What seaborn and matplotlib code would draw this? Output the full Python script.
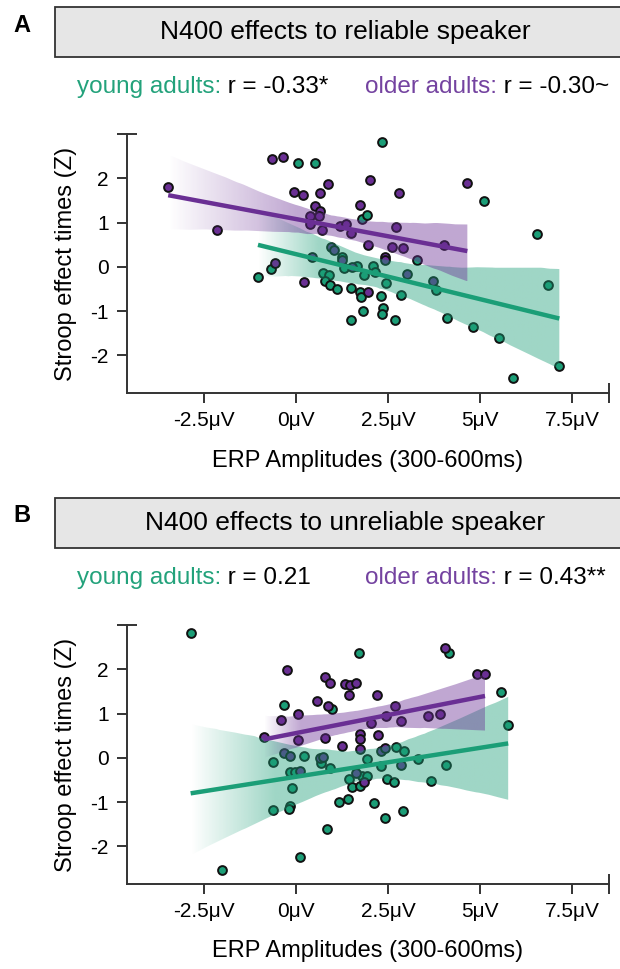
import numpy as np
import seaborn as sns
import matplotlib.pyplot as plt
import matplotlib.colors as mcolors
from matplotlib.patches import Rectangle
from matplotlib.path import Path

# panel A: reliable speaker
a_young_x = [2.33, 0.06, 0.52, 1.79, 1.93, -1.04, -0.68, 0.73, 0.88, 0.79, 0.91, 1.11, 1.23,
             1.29, 1.65, 1.83, 2.08, 2.15, 2.43, 1.49, 1.74, 1.76, 2.31, 2.85, 1.82, 1.49,
             2.35, 2.33, 2.68, 4.09, 3.81, 5.09, 6.54, 6.83, 4.80, 5.50, 5.90, 7.15, 3.27]
a_young_y = [2.81, 2.34, 2.34, 1.08, 1.18, -0.23, -0.05, -0.13, -0.18, -0.33, -0.41, -0.50, 0.23,
             -0.03, 0.01, -0.18, 0.02, -0.11, -0.37, -0.48, -0.56, -0.69, -0.65, -0.63, -0.99, -1.21,
             -0.93, -1.07, -1.20, -1.16, -0.52, 1.48, 0.74, -0.41, -1.37, -1.61, -2.52, -2.23, 0.16]
a_old_x = [-3.48, -2.16, -0.65, -0.35, -0.07, 0.18, 0.65, 0.85, 0.52, 0.64, 0.38, 0.61, 0.70,
           0.38, 1.18, 1.34, 1.49, 1.74, 2.00, 2.80, 2.72, 1.94, 2.61, 2.91, 4.01, 0.95, 1.02,
           1.24, 0.43, -0.57, 0.20, 1.52, 2.40, 2.40, 3.02, 3.72, 1.94, 4.65]
a_old_y = [1.81, 0.84, 2.44, 2.48, 1.70, 1.63, 1.66, 1.88, 1.38, 1.27, 1.14, 1.15, 0.84,
           0.97, 0.93, 0.97, 0.76, 1.39, 1.97, 1.66, 0.91, 0.50, 0.44, 0.42, 0.50, 0.44, 0.39,
           0.16, 0.23, 0.08, -0.35, 0.00, 0.23, 0.16, -0.17, -0.31, -0.56, 1.89]

# panel B: unreliable speaker
b_young_x = [-2.87, 1.70, -0.32, 0.97, -0.62, 0.22, 0.67, 0.93, -0.18, -0.03, -0.12, -0.64, -0.18,
             -0.21, 0.84, 0.09, -2.01, 1.15, 1.40, 1.43, 1.52, 1.74, 1.79, 1.93, 1.93, 2.11,
             2.40, 2.90, 2.47, 2.65, 2.31, 2.70, 2.94, 3.31, 3.67, 4.07, 4.15, 5.56, 5.76]
b_young_y = [2.83, 2.36, 1.19, 1.11, -0.10, 0.05, -0.11, -0.22, -0.33, -0.33, -0.69, -1.18, -1.09,
             -1.16, -1.61, -2.23, -2.53, -0.99, -0.92, -0.48, -0.65, -0.64, -0.41, -0.41, -0.03, -1.01,
             -1.36, -1.20, -0.48, -0.55, -0.18, 0.24, 0.16, -0.02, -0.52, -0.17, 2.36, 1.49, 0.75]
b_old_x = [-0.25, 0.79, 0.93, 1.32, 1.47, 1.62, 1.44, 0.56, 0.86, 0.06, -0.42, 2.20, 2.68,
           2.43, 2.03, 2.85, 3.59, 3.92, -0.89, 0.06, 0.77, 1.73, 1.74, 2.22, 1.24, 1.74,
           2.31, 2.40, -0.33, -0.16, 0.65, 0.73, 0.11, 1.63, 1.85, 2.85, 4.04, 4.92, 5.13]
b_old_y = [1.98, 1.83, 1.70, 1.67, 1.64, 1.68, 1.41, 1.28, 1.18, 1.00, 0.86, 1.41, 1.17,
           0.94, 0.79, 0.84, 0.95, 1.00, 0.46, 0.41, 0.45, 0.54, 0.43, 0.52, 0.27, 0.20,
           0.16, 0.23, 0.11, 0.05, 0.00, 0.01, -0.30, -0.35, -0.54, -0.16, 2.49, 1.89, 1.89]

x_ticks = [-2.5, 0, 2.5, 5, 7.5]
x_labels = ["-2.5μV", "0μV", "2.5μV", "5μV", "7.5μV"]
y_ticks = [-2, -1, 0, 1, 2]
y_labels = ["-2", "-1", "0", "1", "2"]

GREEN = "#1b9e77"
PURPLE = "#6a2f94"
GREEN_TXT = "#23a27b"
PURPLE_TXT = "#7443a0"
DARK = "#333333"
W, H = 620, 969

sns.set_theme(style="ticks")
plt.rcParams["font.family"] = ["Liberation Sans", "DejaVu Sans"]
plt.rcParams["axes.unicode_minus"] = False
plt.rcParams["text.color"] = "black"

fig = plt.figure(figsize=(6.2, 9.69), dpi=100)


def fx(px):
    return px / W


def fy(py):
    return 1 - py / H


def fade_band(ax, coll, color, x_full, alpha=0.42):
    # swap the CI band for one that fades out towards its left end
    verts = coll.get_paths()[0].vertices
    x0, x1 = verts[:, 0].min(), verts[:, 0].max()
    y0, y1 = verts[:, 1].min(), verts[:, 1].max()
    xs = np.linspace(x0, x1, 400)
    rgba = np.zeros((2, 400, 4))
    rgba[..., :3] = mcolors.to_rgb(color)
    rgba[..., 3] = np.clip((xs - x0) / (x_full - x0), 0, 1) * alpha
    im = ax.imshow(rgba, extent=(x0, x1, y0, y1), origin="lower", aspect="auto",
                   interpolation="bilinear", zorder=3)
    im.set_clip_path(Path(verts), ax.transData)
    coll.remove()


def panel(off, letter, title, yx, yy, ox, oy, r_young, r_old, fade_young, fade_old):
    fig.text(fx(13), fy(off + 25), letter, fontsize=17, fontweight="bold", va="center")
    fig.add_artist(Rectangle((fx(55), fy(off + 57)), fx(650) - fx(55), 50 / H,
                             transform=fig.transFigure, facecolor="#e6e6e6",
                             edgecolor=DARK, lw=1.3))
    fig.text(fx(345), fy(off + 32), title, fontsize=19, ha="center", va="center")

    t1 = fig.text(fx(77), fy(off + 93), "young adults:", color=GREEN_TXT, fontsize=17.5,
                  va="baseline")
    t2 = fig.text(fx(365), fy(off + 93), "older adults:", color=PURPLE_TXT, fontsize=17.5,
                  va="baseline")

    ax = fig.add_axes([fx(127), fy(off + 393), (609 - 127) / W, 259 / H])
    ax.annotate(" " + r_young, xy=(1, 0), xycoords=t1, va="bottom", ha="left",
                fontsize=17.5, annotation_clip=False)
    ax.annotate(" " + r_old, xy=(1, 0), xycoords=t2, va="bottom", ha="left",
                fontsize=17.5, annotation_clip=False)

    sns.scatterplot(x=yx, y=yy, color=GREEN, s=40, edgecolor="#111111", linewidth=1.4,
                    ax=ax, zorder=2)
    sns.scatterplot(x=ox, y=oy, color=PURPLE, s=40, edgecolor="#111111", linewidth=1.4,
                    ax=ax, zorder=2)

    for xs, ys, col, xf in [(yx, yy, GREEN, fade_young), (ox, oy, PURPLE, fade_old)]:
        n = len(ax.collections)
        sns.regplot(x=xs, y=ys, scatter=False, color=col, ax=ax, seed=3,
                    line_kws=dict(lw=3.2, zorder=5, solid_capstyle="butt"))
        fade_band(ax, ax.collections[n], col, xf)

    ax.set_xlim(-4.6, 8.5)
    ax.set_ylim(-2.85, 3)
    ax.set_xticks(x_ticks)
    ax.set_xticklabels(x_labels)
    ax.set_yticks(y_ticks)
    ax.set_yticklabels(y_labels)
    ax.set_xticks([8.5], minor=True)
    ax.set_yticks([3], minor=True)
    ax.tick_params(which="major", direction="out", length=7, width=1.4, color=DARK,
                   labelsize=15, labelcolor="black", pad=6)
    ax.tick_params(which="minor", direction="inout", length=14, width=1.4, color=DARK)
    sns.despine(ax=ax)
    for s in ["left", "bottom"]:
        ax.spines[s].set_linewidth(1.4)
        ax.spines[s].set_color(DARK)
    ax.set_xlabel("ERP Amplitudes (300-600ms)", fontsize=17, labelpad=14, color="black")
    ax.set_ylabel("Stroop effect times (Z)", fontsize=17, labelpad=10, color="black")


panel(0, "A", "N400 effects to reliable speaker", a_young_x, a_young_y, a_old_x, a_old_y,
      "r = -0.33*", "r = -0.30~", 0.6, 0.0)
panel(491, "B", "N400 effects to unreliable speaker", b_young_x, b_young_y, b_old_x, b_old_y,
      "r = 0.21", "r = 0.43**", -0.6, 0.1)

fig.savefig("out.png", dpi=100)
